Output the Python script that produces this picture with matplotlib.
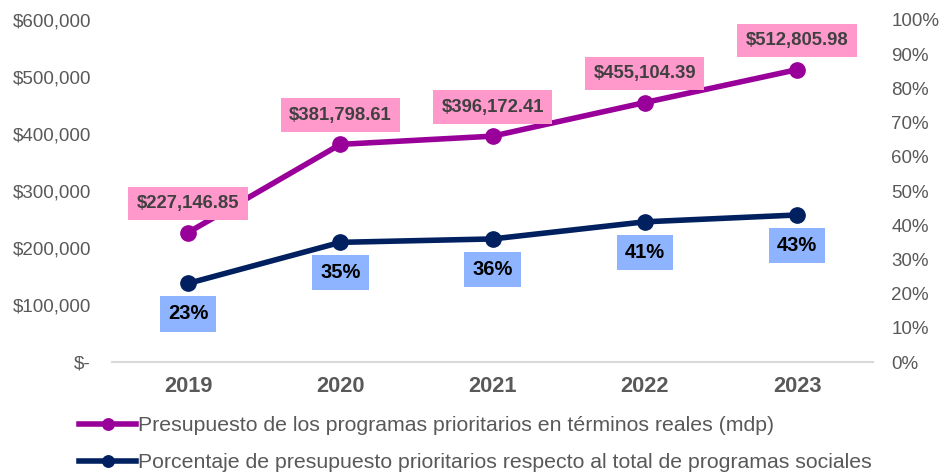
import matplotlib.pyplot as plt
from matplotlib.ticker import FuncFormatter

plt.rcParams['font.family'] = ['Liberation Sans', 'DejaVu Sans']

years = ['2019', '2020', '2021', '2022', '2023']
presupuesto = [227146.85, 381798.61, 396172.41, 455104.39, 512805.98]
porcentaje = [23, 35, 36, 41, 43]

magenta = '#990099'
pink = '#FF99CC'
navy = '#002060'
light_blue = '#8EB4FF'
gray = '#595959'

fig = plt.figure(figsize=(9.4, 4.74), dpi=100)
ax = fig.add_axes([0.119, 0.236, 0.81, 0.722])
ax2 = ax.twinx()

x = range(len(years))
l1, = ax.plot(x, presupuesto, color=magenta, lw=4, marker='o', ms=11,
              label='Presupuesto de los programas prioritarios en términos reales (mdp)')
l2, = ax2.plot(x, porcentaje, color=navy, lw=4, marker='o', ms=11,
               label='Porcentaje de presupuesto prioritarios respecto al total de programas sociales')

ax.set_ylim(0, 600000)
ax2.set_ylim(0, 100)
ax.set_xlim(-0.5, 4.5)
ax.set_yticks(range(0, 600001, 100000))
ax2.set_yticks(range(0, 101, 10))
ax.yaxis.set_major_formatter(FuncFormatter(lambda v, p: '$-' if v == 0 else f'${v:,.0f}'))
ax2.yaxis.set_major_formatter(FuncFormatter(lambda v, p: f'{v:.0f}%'))

for a in (ax, ax2):
    for s in a.spines.values():
        s.set_visible(False)
    a.tick_params(length=0, labelsize=13.5, labelcolor=gray)
ax.spines['bottom'].set_visible(True)
ax.spines['bottom'].set_color('#D9D9D9')
ax.spines['bottom'].set_linewidth(1.5)
ax.tick_params(axis='y', pad=15)
ax2.tick_params(axis='y', pad=13)
ax.tick_params(axis='x', pad=10)

ax.set_xticks(list(x))
ax.set_xticklabels(years, fontsize=15.7, fontweight='bold', color=gray)

for i, v in enumerate(presupuesto):
    ax.annotate(f'${v:,.2f}', (i, v), xytext=(0, 21), textcoords='offset points',
                ha='center', va='center', fontsize=13.3, fontweight='bold', color='#404040',
                bbox=dict(boxstyle='square,pad=0.45', fc=pink, ec='none'))
for i, v in enumerate(porcentaje):
    ax2.annotate(f'{v}%', (i, v), xytext=(0, -22), textcoords='offset points',
                 ha='center', va='center', fontsize=14.5, fontweight='bold', color='black',
                 bbox=dict(boxstyle='square,pad=0.4', fc=light_blue, ec='none'))

fig.legend(handles=[l1, l2], loc='upper left', bbox_to_anchor=(0.075, 0.14),
           frameon=False, fontsize=15.3, labelcolor=gray, handlelength=2.7,
           handletextpad=0.1, labelspacing=0.85, borderaxespad=0, markerscale=0.75)

fig.savefig('out.png', dpi=100)
